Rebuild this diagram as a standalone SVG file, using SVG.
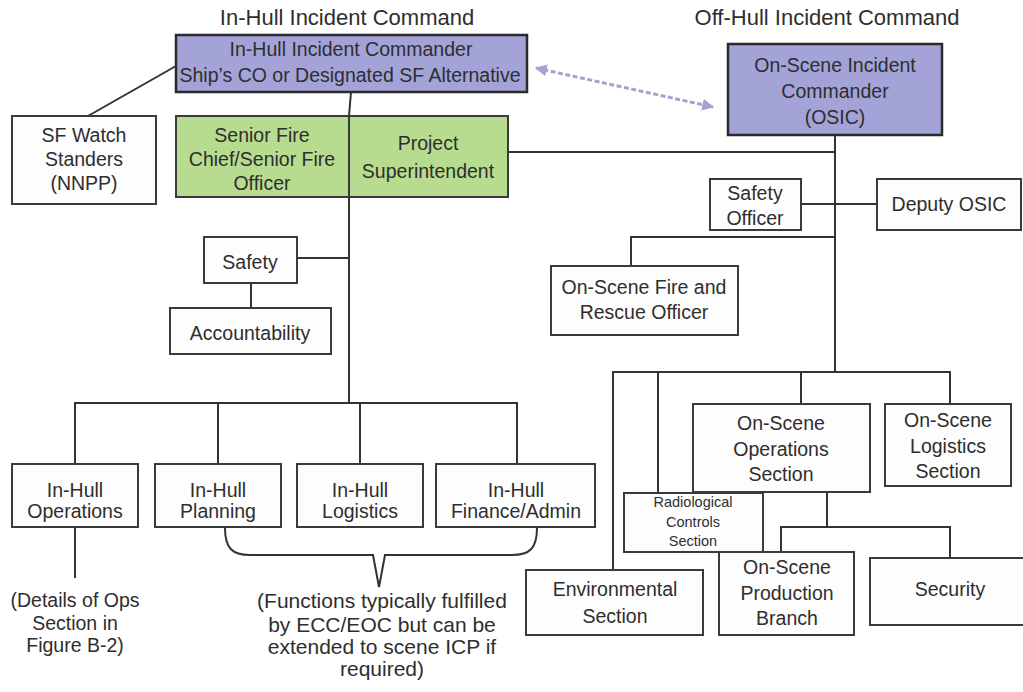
<svg xmlns="http://www.w3.org/2000/svg" width="1023" height="692" viewBox="0 0 1023 692">
<defs>
<style>
.bx{fill:#fdfdfd;stroke:#3a3a3a;stroke-width:2}
.pu{fill:#a3a3d8;stroke:#2a2a2a;stroke-width:2.5}
.gr{fill:#b7dc90;stroke:#3a3a3a;stroke-width:2}
.ln{fill:none;stroke:#333;stroke-width:2}
.tx{font-family:"Liberation Sans",Arial,sans-serif;font-size:19.5px;fill:#2e2e2e;text-anchor:middle}
.tt{font-family:"Liberation Sans",Arial,sans-serif;font-size:22px;fill:#2e2e2e;text-anchor:middle}
.sm{font-size:14.5px}
.fn{font-size:21px}
</style>
<marker id="ah" viewBox="0 0 10 10" refX="9" refY="5" markerWidth="4" markerHeight="4" orient="auto-start-reverse">
<path d="M0,0 L10,5 L0,10 z" fill="#a4a4d2"/>
</marker>
</defs>
<rect width="1023" height="692" fill="#ffffff"/>

<g id="connectors">
<line class="ln" x1="88" y1="116" x2="176" y2="66"/>
<polyline class="ln" points="351,92 349,116 349,403"/>
<line class="ln" x1="297" y1="258" x2="349" y2="258"/>
<line class="ln" x1="251" y1="283" x2="251" y2="308"/>
<polyline class="ln" points="75,464 75,403 517,403 517,464"/>
<line class="ln" x1="218" y1="403" x2="218" y2="464"/>
<line class="ln" x1="360" y1="403" x2="360" y2="464"/>
<line class="ln" x1="75" y1="527" x2="75" y2="578" stroke-width="1.2"/>
<path class="ln" d="M225,528 C225,548 232,555 250,555 L373,555 L379,587 L385,555 L512,555 C530,555 537,548 537,528"/>
<line class="ln" x1="508" y1="152" x2="835" y2="152"/>
<line class="ln" x1="835" y1="135" x2="835" y2="372"/>
<line class="ln" x1="801" y1="204" x2="877" y2="204"/>
<polyline class="ln" points="835,237 631,237 631,266"/>
<polyline class="ln" points="613,570 613,372 950,372 950,404"/>
<line class="ln" x1="658" y1="372" x2="658" y2="493"/>
<line class="ln" x1="801" y1="372" x2="801" y2="404"/>
<line class="ln" x1="827" y1="492" x2="827" y2="527"/>
<polyline class="ln" points="781,552 781,527 950,527 950,558"/>
<line x1="536" y1="68" x2="713" y2="107" stroke="#a4a4d2" stroke-width="3" stroke-dasharray="5,2.5" marker-start="url(#ah)" marker-end="url(#ah)"/>
</g>

<g id="titles">
<text class="tt" x="347" y="25">In-Hull Incident Command</text>
<text class="tt" x="827" y="25">Off-Hull Incident Command</text>
</g>

<g id="inhull-ic">
<rect class="pu" x="176" y="35" width="351" height="57"/>
<text class="tx" x="351" y="56">In-Hull Incident Commander</text>
<text class="tx" x="350" y="82">Ship’s CO or Designated SF Alternative</text>
</g>

<g id="osic">
<rect class="pu" x="728" y="44" width="214" height="91"/>
<text class="tx" x="835" y="72">On-Scene Incident</text>
<text class="tx" x="835" y="98">Commander</text>
<text class="tx" x="835" y="124">(OSIC)</text>
</g>

<g id="sf-watch">
<rect class="bx" x="12" y="116" width="144" height="88"/>
<text class="tx" x="84" y="142">SF Watch</text>
<text class="tx" x="84" y="166">Standers</text>
<text class="tx" x="84" y="190">(NNPP)</text>
</g>

<g id="senior-fire">
<rect class="gr" x="176" y="116" width="173" height="81"/>
<text class="tx" x="262" y="142">Senior Fire</text>
<text class="tx" x="262" y="166">Chief/Senior Fire</text>
<text class="tx" x="262" y="190">Officer</text>
</g>

<g id="project-super">
<rect class="gr" x="349" y="116" width="159" height="81"/>
<text class="tx" x="428" y="150">Project</text>
<text class="tx" x="428" y="178">Superintendent</text>
</g>

<g id="safety">
<rect class="bx" x="204" y="237" width="93" height="46"/>
<text class="tx" x="250" y="269">Safety</text>
</g>

<g id="accountability">
<rect class="bx" x="170" y="308" width="161" height="46"/>
<text class="tx" x="250" y="340">Accountability</text>
</g>

<g id="ih-ops">
<rect class="bx" x="12" y="464" width="126" height="63"/>
<text class="tx" x="75" y="497">In-Hull</text>
<text class="tx" x="75" y="518">Operations</text>
</g>

<g id="ih-planning">
<rect class="bx" x="155" y="464" width="126" height="63"/>
<text class="tx" x="218" y="497">In-Hull</text>
<text class="tx" x="218" y="518">Planning</text>
</g>

<g id="ih-logistics">
<rect class="bx" x="297" y="464" width="126" height="63"/>
<text class="tx" x="360" y="497">In-Hull</text>
<text class="tx" x="360" y="518">Logistics</text>
</g>

<g id="ih-finance">
<rect class="bx" x="436" y="464" width="159" height="63"/>
<text class="tx" x="516" y="497">In-Hull</text>
<text class="tx" x="516" y="518">Finance/Admin</text>
</g>

<g id="ops-note">
<text class="tx" x="75" y="607">(Details of Ops</text>
<text class="tx" x="75" y="630">Section in</text>
<text class="tx" x="75" y="652">Figure B-2)</text>
</g>

<g id="functions-note">
<text class="tx fn" x="382" y="608">(Functions typically fulfilled</text>
<text class="tx fn" x="382" y="632">by ECC/EOC but can be</text>
<text class="tx fn" x="382" y="654">extended to scene ICP if</text>
<text class="tx fn" x="382" y="676">required)</text>
</g>

<g id="safety-officer">
<rect class="bx" x="710" y="179" width="91" height="51"/>
<text class="tx" x="755" y="200">Safety</text>
<text class="tx" x="755" y="225">Officer</text>
</g>

<g id="deputy-osic">
<rect class="bx" x="877" y="179" width="144" height="51"/>
<text class="tx" x="949" y="211">Deputy OSIC</text>
</g>

<g id="fire-rescue">
<rect class="bx" x="551" y="266" width="187" height="69"/>
<text class="tx" x="644" y="294">On-Scene Fire and</text>
<text class="tx" x="644" y="319">Rescue Officer</text>
</g>

<g id="os-ops">
<rect class="bx" x="693" y="404" width="177" height="88"/>
<text class="tx" x="781" y="430">On-Scene</text>
<text class="tx" x="781" y="456">Operations</text>
<text class="tx" x="781" y="481">Section</text>
</g>

<g id="os-logistics">
<rect class="bx" x="885" y="404" width="126" height="82"/>
<text class="tx" x="948" y="427">On-Scene</text>
<text class="tx" x="948" y="453">Logistics</text>
<text class="tx" x="948" y="478">Section</text>
</g>

<g id="environmental">
<rect class="bx" x="526" y="570" width="177" height="65"/>
<text class="tx" x="615" y="596">Environmental</text>
<text class="tx" x="615" y="623">Section</text>
</g>

<g id="production">
<rect class="bx" x="719" y="552" width="135" height="83"/>
<text class="tx" x="787" y="574">On-Scene</text>
<text class="tx" x="787" y="600">Production</text>
<text class="tx" x="787" y="625">Branch</text>
</g>

<g id="radiological">
<rect class="bx" x="624" y="493" width="139" height="59"/>
<text class="tx sm" x="693" y="507">Radiological</text>
<text class="tx sm" x="693" y="527">Controls</text>
<text class="tx sm" x="693" y="546">Section</text>
</g>

<g id="security">
<rect class="bx" x="870" y="558" width="160" height="67"/>
<text class="tx" x="950" y="596">Security</text>
</g>
</svg>
